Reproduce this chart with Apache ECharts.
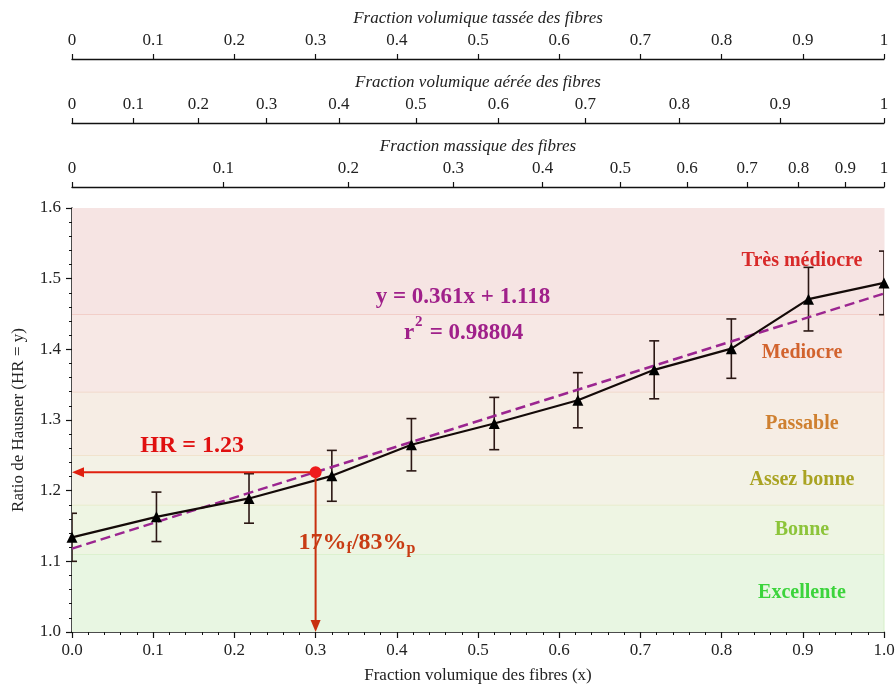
<!DOCTYPE html>
<html><head><meta charset="utf-8">
<script src="https://cdn.jsdelivr.net/npm/echarts@6/dist/echarts.min.js"></script>
<style>html,body{margin:0;padding:0;background:#fff}#c{width:896px;height:686px}</style>
</head><body><div id="c"></div>
<script>
// ---- data ----
const volFrac    = [0.0, 0.104, 0.218, 0.320, 0.418, 0.520, 0.623, 0.717, 0.812, 0.907, 1.0];
const hausner    = [1.134, 1.163, 1.189, 1.221, 1.265, 1.295, 1.328, 1.371, 1.401, 1.471, 1.494];
const hausnerErr = [0.034, 0.035, 0.035, 0.036, 0.037, 0.037, 0.039, 0.041, 0.042, 0.045, 0.045];
const fitX = [0, 1];
const fitY = [1.118, 1.479];
const fitEquation = 'y = 0.361x + 1.118';
const fitR2 = '0.98804';
const bandNames = ['Excellente', 'Bonne', 'Assez bonne', 'Passable', 'Mediocre', 'Très médiocre'];
const bandLower = [1.00, 1.11, 1.18, 1.25, 1.34, 1.45];
const bandUpper = [1.11, 1.18, 1.25, 1.34, 1.45, 1.60];
const readHR = 1.226;
const readX = 0.30;
const hrLabel = 'HR = 1.23';
const tasseeLabels   = ['0','0.1','0.2','0.3','0.4','0.5','0.6','0.7','0.8','0.9','1'];
const tasseePos      = [0, 0.1, 0.2, 0.3, 0.4, 0.5, 0.6, 0.7, 0.8, 0.9, 1];
const aereeLabels    = ['0','0.1','0.2','0.3','0.4','0.5','0.6','0.7','0.8','0.9','1'];
const aereePos       = [0, 0.0755, 0.1555, 0.2398, 0.3288, 0.4236, 0.525, 0.6322, 0.748, 0.872, 1];
const massiqueLabels = ['0','0.1','0.2','0.3','0.4','0.5','0.6','0.7','0.8','0.9','1'];
const massiquePos    = [0, 0.1864, 0.3403, 0.4696, 0.5797, 0.6753, 0.7574, 0.8313, 0.895, 0.9524, 1];

// ---- styles ----
const FONT = "'Liberation Serif','Times New Roman',serif";
const TXT = '#222';
const bandFill   = ['#e8f6e2', '#eef5e3', '#f3f2e6', '#f6ede4', '#f7e8e5', '#f6e4e3'];
const bandEdge   = ['#d6efc8', '#e6e9c6', '#efdfc6', '#f0d3c3', '#f0c6be', '#f6e4e3'];
const bandText   = ['#3cd43c', '#8cc43a', '#a9a322', '#cf8030', '#d2632e', '#d82a2a'];

function lookup(pos, labels) {
  return function (v) {
    for (let i = 0; i < pos.length; i++) if (Math.abs(pos[i] - v) < 1e-6) return labels[i];
    return '';
  };
}

const topAxes = [
  {name: 'Fraction volumique tassée des fibres', pos: tasseePos, labels: tasseeLabels, top: 59},
  {name: 'Fraction volumique aérée des fibres', pos: aereePos, labels: aereeLabels, top: 123},
  {name: 'Fraction massique des fibres', pos: massiquePos, labels: massiqueLabels, top: 187}
];

const grids = [{left: 72, right: 12, top: 208, bottom: 54, outerBoundsMode: 'none', containLabel: false}];
const xAxes = [{
  gridIndex: 0, type: 'value', min: 0, max: 1, interval: 0.1,
  name: 'Fraction volumique des fibres (x)', nameLocation: 'middle', nameGap: 35,
  nameTextStyle: {fontFamily: FONT, fontSize: 17, color: TXT},
  axisLine: {show: true, onZero: false, lineStyle: {color: '#111', width: 1.5}},
  axisTick: {show: true, length: 6, lineStyle: {color: '#111', width: 1.2}},
  minorTick: {show: true, splitNumber: 5, length: 3, lineStyle: {color: '#111', width: 1}},
  axisLabel: {fontFamily: FONT, fontSize: 17, color: TXT, margin: 10, formatter: v => v.toFixed(1)},
  splitLine: {show: false}
}];
const yAxes = [{
  gridIndex: 0, type: 'value', min: 1.0, max: 1.6, interval: 0.1,
  name: 'Ratio de Hausner (HR = y)', nameLocation: 'middle', nameGap: 45,
  nameTextStyle: {fontFamily: FONT, fontSize: 17, color: TXT},
  axisLine: {show: true, onZero: false, lineStyle: {color: '#111', width: 1.5}},
  axisTick: {show: true, length: 6, lineStyle: {color: '#111', width: 1.2}},
  minorTick: {show: true, splitNumber: 5, length: 3, lineStyle: {color: '#111', width: 1}},
  axisLabel: {fontFamily: FONT, fontSize: 17, color: TXT, margin: 11, formatter: v => v.toFixed(1)},
  splitLine: {show: false}
}];
topAxes.forEach((a, i) => {
  grids.push({left: 72, right: 12, top: a.top, height: 1, outerBoundsMode: 'none', containLabel: false});
  xAxes.push({
    gridIndex: i + 1, type: 'value', position: 'top', min: 0, max: 1,
    name: a.name, nameLocation: 'middle', nameGap: 32,
    nameTextStyle: {fontFamily: FONT, fontSize: 17, fontStyle: 'italic', color: TXT},
    axisLine: {show: true, onZero: false, lineStyle: {color: '#111', width: 1.3}},
    axisTick: {show: true, length: 5, customValues: a.pos, lineStyle: {color: '#111', width: 1.2}},
    axisLabel: {show: true, customValues: a.pos, formatter: lookup(a.pos, a.labels),
                fontFamily: FONT, fontSize: 17, color: TXT, margin: 10},
    splitLine: {show: false}
  });
  yAxes.push({gridIndex: i + 1, type: 'value', min: 0, max: 1, show: false});
});

const bandData = bandNames.map((n, i) => [bandLower[i], bandUpper[i], i]);
const errData = volFrac.map((x, i) => [x, hausner[i] - hausnerErr[i], hausner[i] + hausnerErr[i]]);

const option = {
  backgroundColor: '#fff',
  animation: false,
  grid: grids,
  xAxis: xAxes,
  yAxis: yAxes,
  series: [
    {
      type: 'custom', xAxisIndex: 0, yAxisIndex: 0, z: 1, silent: true,
      data: bandData,
      renderItem: function (params, api) {
        const lo = api.value(0), hi = api.value(1), i = api.value(2);
        const pTL = api.coord([0, hi]);
        const pBR = api.coord([1, lo]);
        const mid = api.coord([0.899, (lo + hi) / 2]);
        const children = [
          {type: 'rect', shape: {x: pTL[0], y: pTL[1], width: pBR[0] - pTL[0], height: pBR[1] - pTL[1]},
           style: {fill: bandFill[i]}},
          {type: 'line', shape: {x1: pBR[0], y1: pTL[1], x2: pBR[0], y2: pBR[1]},
           style: {stroke: bandEdge[i], lineWidth: 1}},
          {type: 'text', x: mid[0], y: mid[1],
           style: {text: bandNames[i], fill: bandText[i], font: 'bold 20px ' + FONT,
                   align: 'center', verticalAlign: 'middle'}}
        ];
        if (hi < 1.6) {
          children.push({type: 'line', shape: {x1: pTL[0], y1: pTL[1], x2: pBR[0], y2: pTL[1]},
                         style: {stroke: bandEdge[i], lineWidth: 1.5}});
        }
        return {type: 'group', children: children};
      }
    },
    {
      type: 'custom', xAxisIndex: 0, yAxisIndex: 0, z: 3, silent: true, clip: true,
      data: errData,
      renderItem: function (params, api) {
        const a = api.coord([api.value(0), api.value(1)]);
        const b = api.coord([api.value(0), api.value(2)]);
        const st = {stroke: '#2b1714', lineWidth: 1.6};
        return {type: 'group', children: [
          {type: 'line', shape: {x1: a[0], y1: a[1], x2: b[0], y2: b[1]}, style: st},
          {type: 'line', shape: {x1: a[0] - 5, y1: a[1], x2: a[0] + 5, y2: a[1]}, style: st},
          {type: 'line', shape: {x1: b[0] - 5, y1: b[1], x2: b[0] + 5, y2: b[1]}, style: st}
        ]};
      }
    },
    {
      type: 'line', xAxisIndex: 0, yAxisIndex: 0, z: 4, silent: true,
      data: fitX.map((x, i) => [x, fitY[i]]),
      symbol: 'none',
      lineStyle: {color: '#9b2590', width: 2.5, type: [10, 5]}
    },
    {
      type: 'line', xAxisIndex: 0, yAxisIndex: 0, z: 5, silent: true,
      data: volFrac.map((x, i) => [x, hausner[i]]),
      symbol: 'triangle', symbolSize: 11,
      itemStyle: {color: '#000'},
      lineStyle: {color: '#140a08', width: 2.2}
    },
    {
      type: 'custom', xAxisIndex: 0, yAxisIndex: 0, z: 6, silent: true, clip: false,
      data: [[readX, readHR]],
      renderItem: function (params, api) {
        const p = api.coord([api.value(0), api.value(1)]);
        const l = api.coord([0, api.value(1)]);
        const d = api.coord([api.value(0), 1.0]);
        const red = '#e0200f', dark = '#c8300f';
        const hrPos = api.coord([0.148, 1.263]);
        const pctPos = api.coord([0.351, 1.126]);
        const eqPos = api.coord([0.4815, 1.474]);
        const r2Pos = api.coord([0.4815, 1.423]);
        const r2Left = r2Pos[0] - 59;
        return {type: 'group', children: [
          {type: 'line', shape: {x1: p[0], y1: p[1], x2: l[0] + 10, y2: l[1]}, style: {stroke: red, lineWidth: 2}},
          {type: 'polygon', shape: {points: [[l[0], l[1]], [l[0] + 12, l[1] - 5], [l[0] + 12, l[1] + 5]]}, style: {fill: red}},
          {type: 'line', shape: {x1: p[0], y1: p[1], x2: d[0], y2: d[1] - 10}, style: {stroke: dark, lineWidth: 2}},
          {type: 'polygon', shape: {points: [[d[0], d[1]], [d[0] - 5, d[1] - 12], [d[0] + 5, d[1] - 12]]}, style: {fill: dark}},
          {type: 'circle', shape: {cx: p[0], cy: p[1], r: 6}, style: {fill: '#ee1c1c'}},
          {type: 'text', x: hrPos[0], y: hrPos[1],
           style: {text: hrLabel, fill: '#e01010', font: 'bold 24px ' + FONT, align: 'center', verticalAlign: 'middle'}},
          {type: 'text', x: pctPos[0], y: pctPos[1],
           style: {text: '17%{s|f}/83%{s|p}', fill: '#c83c14', font: 'bold 24px ' + FONT,
                   align: 'center', verticalAlign: 'middle',
                   rich: {s: {fontSize: 16, fontWeight: 'bold', fontFamily: FONT, fill: '#c83c14',
                              verticalAlign: 'bottom', padding: [12, 0, 0, 0]}}}},
          {type: 'text', x: eqPos[0], y: eqPos[1],
           style: {text: fitEquation, fill: '#a0208a', font: 'bold 23px ' + FONT, align: 'center', verticalAlign: 'middle'}},
          {type: 'text', x: r2Left, y: r2Pos[1],
           style: {text: 'r', fill: '#a0208a', font: 'bold 23px ' + FONT, align: 'left', verticalAlign: 'middle'}},
          {type: 'text', x: r2Left + 11, y: r2Pos[1] - 11,
           style: {text: '2', fill: '#a0208a', font: 'bold 15px ' + FONT, align: 'left', verticalAlign: 'middle'}},
          {type: 'text', x: r2Left + 20, y: r2Pos[1],
           style: {text: ' = ' + fitR2, fill: '#a0208a', font: 'bold 23px ' + FONT, align: 'left', verticalAlign: 'middle'}}
        ]};
      }
    }
  ]
};

const chart = echarts.init(document.getElementById('c'), null, {renderer: 'canvas'});
chart.setOption(option);
</script>
</body></html>
